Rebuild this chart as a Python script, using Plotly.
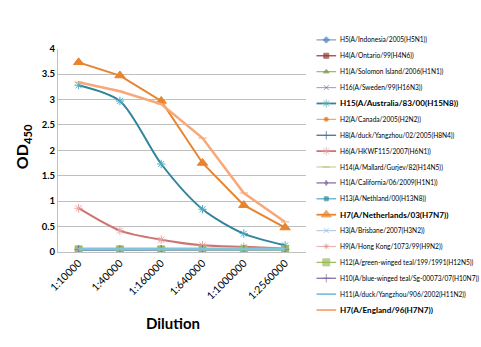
import plotly.graph_objects as go

W, H = 481, 347

categories = ["1:10000", "1:40000", "1:160000", "1:640000", "1:1000000", "1:2560000"]

names = [
    "H5(A/Indonesia/2005(H5N1))",
    "H4(A/Ontario/99(H4N6))",
    "H1(A/Solomon Island/2006(H1N1))",
    "H16(A/Sweden/99(H16N3))",
    "H15(A/Australia/83/00(H15N8))",
    "H2(A/Canada/2005(H2N2))",
    "H8(A/duck/Yangzhou/02/2005(H8N4))",
    "H6(A/HKWF115/2007(H6N1))",
    "H14(A/Mallard/Gurjev/82(H14N5))",
    "H1(A/California/06/2009(H1N1))",
    "H13(A/Nethland/00(H13N8))",
    "H7(A/Netherlands/03(H7N7))",
    "H3(A/Brisbane/2007(H3N2))",
    "H9(A/Hong Kong/1073/99(H9N2))",
    "H12(A/green-winged teal/199/1991(H12N5))",
    "H10(A/blue-winged teal/Sg-00073/07(H10N7))",
    "H11(A/duck/Yangzhou/906/2002(H11N2))",
    "H7(A/England/96(H7N7))",
]

h5 = [0.05, 0.05, 0.05, 0.05, 0.05, 0.05]
h4 = [0.04, 0.04, 0.04, 0.04, 0.04, 0.04]
h1_sol = [0.05, 0.05, 0.05, 0.05, 0.05, 0.04]
h16 = [0.05, 0.05, 0.05, 0.05, 0.05, 0.05]
h15 = [3.28, 2.97, 1.73, 0.84, 0.36, 0.13]
h2 = [0.05, 0.05, 0.05, 0.05, 0.05, 0.05]
h8 = [0.04, 0.04, 0.05, 0.05, 0.05, 0.05]
h6 = [0.86, 0.42, 0.24, 0.13, 0.10, 0.07]
h14 = [0.05, 0.05, 0.05, 0.05, 0.05, 0.05]
h1_cal = [0.04, 0.04, 0.05, 0.06, 0.06, 0.06]
h13 = [0.05, 0.05, 0.05, 0.05, 0.05, 0.05]
h7_neth = [3.73, 3.47, 2.97, 1.75, 0.92, 0.48]
h3 = [0.05, 0.05, 0.05, 0.05, 0.05, 0.05]
h9 = [0.05, 0.05, 0.05, 0.05, 0.05, 0.05]
h12 = [0.05, 0.05, 0.05, 0.05, 0.05, 0.05]
h10 = [0.05, 0.05, 0.05, 0.05, 0.05, 0.05]
h11 = [0.06, 0.06, 0.06, 0.06, 0.06, 0.06]
h7_eng = [3.34, 3.16, 2.91, 2.24, 1.16, 0.59]

series_values = [h5, h4, h1_sol, h16, h15, h2, h8, h6, h14, h1_cal, h13,
                 h7_neth, h3, h9, h12, h10, h11, h7_eng]

# style: (line color, marker color, symbol, line width, marker size, bold, smooth)
styles = [
    ("#7F9CC6", "#4F81BD", "diamond", 1.2, 5, False, False),
    ("#953735", "#953735", "square", 1.2, 5, False, False),
    ("#9BBB59", "#77933C", "triangle-up", 1.2, 5, False, False),
    ("#B3A2C7", "#8064A2", "x-thin-open", 1.2, 5, False, False),
    ("#31849B", "#4BACC6", "asterisk-open", 2.0, 7, True, True),
    ("#F4A46E", "#E46C0A", "circle", 1.2, 4, False, False),
    ("#376092", "#376092", "line-ns-open", 1.2, 6, False, False),
    ("#CD7371", "#E6A0A0", "asterisk-open", 2.0, 7, False, True),
    ("#C3D69B", "#9BBB59", "line-ew-open", 1.2, 5, False, False),
    ("#8064A2", "#8064A2", "diamond-tall", 1.2, 4, False, False),
    ("#4BACC6", "#31849B", "square", 1.2, 4, False, False),
    ("#E8832E", "#E8832E", "triangle-up", 2.0, 9, True, False),
    ("#B9CDE5", "#95B3D7", "x-thin-open", 1.2, 5, False, False),
    ("#E6B9B8", "#D99694", "asterisk-open", 1.2, 5, False, False),
    ("#9BBB59", "#9BBB59", "square", 1.2, 7, False, False),
    ("#8064A2", "#8064A2", "cross-thin-open", 1.2, 6, False, False),
    ("#7FC4DA", "#7FC4DA", "line-ew-open", 3.0, 5, False, False),
    ("#F8A878", "#F8A878", "line-ew-open", 2.5, 6, True, False),
]

yticks = [0, 0.5, 1, 1.5, 2, 2.5, 3, 3.5, 4]
ytick_text = ["0", "0.5", "1", "1.5", "2", "2.5", "3", "3.5", "4"]

# pixel geometry
pl, pr, pt, pb = 49, 302, 44, 254

fig = go.Figure()

for name, vals, st in zip(names, series_values, styles):
    lc, mc, sym, lw, ms, bold, smooth = st
    fig.add_trace(go.Scatter(
        x=categories, y=vals, mode="lines+markers", name=name,
        line=dict(color=lc, width=lw, shape="spline" if smooth else "linear", smoothing=0.8),
        marker=dict(symbol=sym, size=ms, color=mc, line=dict(color=mc, width=1)),
        showlegend=False, xaxis="x", yaxis="y",
    ))

# custom legend in a pixel-space overlay axis
leg_y0, leg_step = 35, (314 - 35) / 17
annotations = []
for i, (name, st) in enumerate(zip(names, styles)):
    lc, mc, sym, lw, ms, bold, smooth = st
    yy = leg_y0 + i * leg_step
    fig.add_trace(go.Scatter(
        x=[313, 323, 333], y=[yy, yy, yy], mode="lines+markers",
        line=dict(color=lc, width=min(lw, 1.8)),
        marker=dict(symbol=sym, size=[0, ms, 0], color=mc, line=dict(color=mc, width=1)),
        showlegend=False, hoverinfo="skip", xaxis="x2", yaxis="y2",
    ))
    annotations.append(dict(
        x=335, y=yy, xref="x2", yref="y2", xanchor="left", yanchor="middle",
        text=f"<b>{name}</b>" if bold else name, showarrow=False,
        font=dict(family="Lato", size=8.1 if bold else 6.6, color="#000000"),
    ))

annotations.append(dict(x=166, y=327, xref="x2", yref="y2", text="<b>Dilution</b>",
                        showarrow=False, font=dict(family="Lato", size=15, color="#000")))
annotations.append(dict(x=13, y=145, xref="x2", yref="y2", text="<b>OD<sub>450</sub></b>",
                        showarrow=False, textangle=-90, font=dict(family="Lato", size=16, color="#000")))

fig.update_layout(
    width=W, height=H, margin=dict(l=0, r=0, t=0, b=0),
    paper_bgcolor="white", plot_bgcolor="rgba(0,0,0,0)",
    xaxis=dict(domain=[pl / W, pr / W], type="category", categoryorder="array",
               categoryarray=categories, range=[-0.5, 5.5], showgrid=False,
               showline=True, linecolor="#BFBFBF", linewidth=1, tickangle=-45,
               ticks="", tickfont=dict(family="Lato", size=10.5, color="#000"), anchor="y"),
    yaxis=dict(domain=[1 - pb / H, 1 - pt / H], range=[0, 4], tickvals=yticks,
               ticktext=ytick_text, showgrid=True, gridcolor="#BFBFBF", gridwidth=1,
               showline=True, linecolor="#BFBFBF", zeroline=False, ticks="",
               tickfont=dict(family="Lato", size=9.5, color="#000", weight="bold"), anchor="x"),
    xaxis2=dict(domain=[0, 1], range=[0, W], visible=False, anchor="y2", fixedrange=True),
    yaxis2=dict(domain=[0, 1], range=[H, 0], visible=False, anchor="x2", fixedrange=True),
    annotations=annotations,
    showlegend=False,
)

fig.write_html("out.html")
